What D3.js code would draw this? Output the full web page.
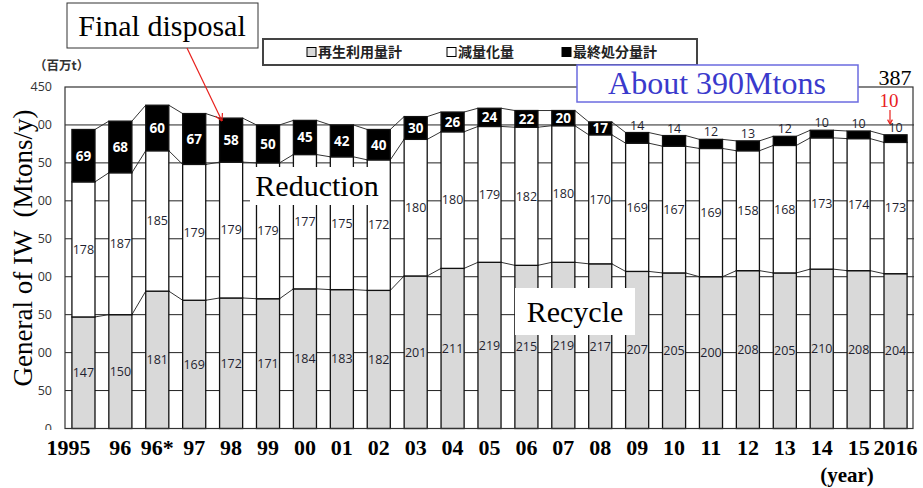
<!DOCTYPE html>
<html>
<head>
<meta charset="utf-8">
<script src="https://cdn.jsdelivr.net/npm/d3@7"></script>
<style>
  body { margin: 0; background: #fff; }
  svg { display: block; }
</style>
</head>
<body>
<svg id="chart" width="923" height="488"></svg>
<script>
// Industrial waste generated in Japan, Mtons per year, split by fate
const years = ["1995", "96", "96*", "97", "98", "99", "00", "01", "02", "03", "04", "05",
               "06", "07", "08", "09", "10", "11", "12", "13", "14", "15", "2016"];
const recycle = [147, 150, 181, 169, 172, 171, 184, 183, 182, 201, 211, 219,
                 215, 219, 217, 207, 205, 200, 208, 205, 210, 208, 204];
const reduction = [178, 187, 185, 179, 179, 179, 177, 175, 172, 180, 180, 179,
                   182, 180, 170, 169, 167, 169, 158, 168, 173, 174, 173];
const finalDisposal = [69, 68, 60, 67, 58, 50, 45, 42, 40, 30, 26, 24,
                       22, 20, 17, 14, 14, 12, 13, 12, 10, 10, 10];
const yTicks = [0, 50, 100, 150, 200, 250, 300, 350, 400, 450];
const legendLabels = ["再生利用量計", "減量化量", "最終処分量計"];
const legendFills = ["#d9d9d9", "#ffffff", "#000000"];

const svg = d3.select("#chart");
const serif = "'Liberation Serif', 'Times New Roman', serif";
const sans = "'Open Sans', 'Liberation Sans', sans-serif";
const cjk = "'Noto Sans CJK JP', 'Noto Sans CJK SC', sans-serif";

const plot = { left: 65, right: 914, top: 87, bottom: 428.5 };

const x = d3.scaleBand()
  .domain(years)
  .range([plot.left, plot.right])
  .paddingInner(0.375)
  .paddingOuter(0.1875);

const y = d3.scaleLinear()
  .domain([0, 450])
  .range([plot.bottom, plot.top]);

const bw = x.bandwidth();

// stacked rows
const rows = years.map((yr, i) => ({
  year: yr,
  recycle: recycle[i],
  reduction: reduction[i],
  finalDisposal: finalDisposal[i]
}));
const stack = d3.stack().keys(["recycle", "reduction", "finalDisposal"]);
const layers = stack(rows);
const fills = { recycle: "#d9d9d9", reduction: "#ffffff", finalDisposal: "#000000" };

// y tick labels
svg.append("g").selectAll("text")
  .data(yTicks)
  .join("text")
  .attr("x", 52)
  .attr("y", d => y(d))
  .attr("dy", "0.35em")
  .attr("text-anchor", "end")
  .attr("font-family", sans)
  .attr("font-size", 12.5)
  .attr("fill", "#333")
  .text(d => d);

// white panels behind the vertical axis title and the year labels
svg.append("rect").attr("x", 4).attr("y", 96).attr("width", 34).attr("height", 322).attr("fill", "#fff");
svg.append("rect").attr("x", 20).attr("y", 430).attr("width", 40).attr("height", 14).attr("fill", "#fff");

svg.append("text")
  .attr("transform", "translate(32,248) rotate(-90)")
  .attr("text-anchor", "middle")
  .attr("font-family", serif)
  .attr("font-size", 27)
  .attr("fill", "#000")
  .attr("xml:space", "preserve")
  .text("General of IW  (Mtons/y)");

// gridlines
svg.append("g").selectAll("line")
  .data(yTicks.filter(d => d > 0 && d < 450))
  .join("line")
  .attr("x1", plot.left).attr("x2", plot.right)
  .attr("y1", d => y(d)).attr("y2", d => y(d))
  .attr("stroke", "#222").attr("stroke-width", 1);

// series lines linking segment tops of neighbouring bars
const seriesLines = svg.append("g")
  .attr("stroke", "#333").attr("stroke-width", 1).attr("fill", "none");
layers.forEach(layer => {
  for (let i = 0; i < layer.length - 1; i++) {
    seriesLines.append("line")
      .attr("x1", x(years[i]) + bw).attr("y1", y(layer[i][1]))
      .attr("x2", x(years[i + 1])).attr("y2", y(layer[i + 1][1]));
  }
});

// bars
svg.append("g").selectAll("g")
  .data(layers)
  .join("g")
  .attr("fill", d => fills[d.key])
  .selectAll("rect")
  .data(d => d)
  .join("rect")
  .attr("x", d => x(d.data.year))
  .attr("y", d => y(d[1]))
  .attr("width", bw)
  .attr("height", d => y(d[0]) - y(d[1]))
  .attr("stroke", "#111")
  .attr("stroke-width", 1.3);

// value labels: recycle and reduction centred in their segments
["recycle", "reduction"].forEach((key, k) => {
  svg.append("g").selectAll("text")
    .data(layers[k])
    .join("text")
    .attr("x", d => x(d.data.year) + bw / 2)
    .attr("y", d => (y(d[0]) + y(d[1])) / 2)
    .attr("dy", "0.35em")
    .attr("text-anchor", "middle")
    .attr("font-family", sans)
    .attr("font-size", 12.5)
    .attr("fill", "#1f1f30")
    .text(d => d.data[key]);
});

// final disposal labels: inside the black bar when it is tall enough, above otherwise
svg.append("g").selectAll("text")
  .data(layers[2])
  .join("text")
  .attr("x", d => x(d.data.year) + bw / 2)
  .attr("y", d => d.data.finalDisposal >= 15 ? (y(d[0]) + y(d[1])) / 2 : y(d[1]) - 3)
  .attr("dy", d => d.data.finalDisposal >= 15 ? "0.36em" : "0")
  .attr("text-anchor", "middle")
  .attr("font-family", sans)
  .attr("font-size", d => d.data.finalDisposal >= 15 ? 13.5 : 12.5)
  .attr("font-weight", d => d.data.finalDisposal >= 15 ? "bold" : "normal")
  .attr("fill", d => d.data.finalDisposal >= 15 ? "#fff" : "#1f1f30")
  .text(d => d.data.finalDisposal);

// plot frame
svg.append("rect")
  .attr("x", plot.left).attr("y", plot.top)
  .attr("width", plot.right - plot.left - 1).attr("height", plot.bottom - plot.top)
  .attr("fill", "none").attr("stroke", "#333").attr("stroke-width", 1.2);

// x axis labels
svg.append("g").selectAll("text")
  .data(years)
  .join("text")
  .attr("x", (d, i) => i === 0 ? x(d) + bw / 2 + 7 : x(d) + bw / 2)
  .attr("y", 455)
  .attr("text-anchor", (d, i) => i === 0 ? "end" : "middle")
  .attr("font-family", serif)
  .attr("font-weight", "bold")
  .attr("font-size", 22)
  .attr("fill", "#000")
  .text(d => d);

svg.append("text")
  .attr("x", 847).attr("y", 482)
  .attr("text-anchor", "middle")
  .attr("font-family", serif).attr("font-weight", "bold").attr("font-size", 21)
  .text("(year)");

// unit label
svg.append("text")
  .attr("x", 34).attr("y", 70)
  .attr("font-family", cjk).attr("font-weight", "bold").attr("font-size", 12.5)
  .attr("fill", "#333")
  .text("（百万t）");

// legend
const legend = svg.append("g");
legend.append("rect")
  .attr("x", 263).attr("y", 39).attr("width", 434).attr("height", 26)
  .attr("fill", "#fff").attr("stroke", "#444").attr("stroke-width", 2);
const legendX = [307, 447, 562];
legendLabels.forEach((lab, i) => {
  legend.append("rect")
    .attr("x", legendX[i]).attr("y", 47.5).attr("width", 9).attr("height", 9)
    .attr("fill", legendFills[i]).attr("stroke", "#000").attr("stroke-width", 1);
  legend.append("text")
    .attr("x", legendX[i] + 11).attr("y", 52)
    .attr("dy", "0.36em")
    .attr("font-family", cjk).attr("font-weight", "bold").attr("font-size", 14)
    .attr("fill", "#222")
    .text(lab);
});

// "Final disposal" callout
svg.append("rect")
  .attr("x", 67).attr("y", 3).attr("width", 191).attr("height", 45)
  .attr("fill", "#fff").attr("stroke", "#333").attr("stroke-width", 1);
svg.append("text")
  .attr("x", 162).attr("y", 36)
  .attr("text-anchor", "middle")
  .attr("font-family", serif).attr("font-size", 30)
  .text("Final disposal");

const red = "#e8201c";
const arrow = (x1, y1, x2, y2, head) => {
  const a = Math.atan2(y2 - y1, x2 - x1);
  const g = svg.append("g").attr("stroke", red).attr("stroke-width", 1.2).attr("fill", "none");
  g.append("line").attr("x1", x1).attr("y1", y1).attr("x2", x2).attr("y2", y2);
  [-0.5, 0.5].forEach(s => {
    g.append("line")
      .attr("x1", x2).attr("y1", y2)
      .attr("x2", x2 - head * Math.cos(a + s)).attr("y2", y2 - head * Math.sin(a + s));
  });
};
arrow(187, 48, 222, 121, 8);

// "Reduction" and "Recycle" labels on white panels
svg.append("rect").attr("x", 250).attr("y", 167).attr("width", 134).attr("height", 38).attr("fill", "#fff");
svg.append("text")
  .attr("x", 317).attr("y", 196)
  .attr("text-anchor", "middle")
  .attr("font-family", serif).attr("font-size", 30)
  .text("Reduction");

svg.append("rect").attr("x", 515).attr("y", 288).attr("width", 120).attr("height", 47).attr("fill", "#fff");
svg.append("text")
  .attr("x", 575).attr("y", 322)
  .attr("text-anchor", "middle")
  .attr("font-family", serif).attr("font-size", 30)
  .text("Recycle");

// total callout
svg.append("rect")
  .attr("x", 577).attr("y", 65).attr("width", 281).attr("height", 37)
  .attr("fill", "#fff").attr("stroke", "#6b6be0").attr("stroke-width", 1.5);
svg.append("text")
  .attr("x", 717).attr("y", 94)
  .attr("text-anchor", "middle")
  .attr("font-family", serif).attr("font-size", 32)
  .attr("fill", "#3a3acc")
  .text("About 390Mtons");

const total2016 = recycle[22] + reduction[22] + finalDisposal[22];
svg.append("rect").attr("x", 877).attr("y", 70).attr("width", 35).attr("height", 16).attr("fill", "#fff");
svg.append("text")
  .attr("x", 895).attr("y", 85)
  .attr("text-anchor", "middle")
  .attr("font-family", serif).attr("font-size", 22)
  .text(total2016);

svg.append("text")
  .attr("x", 889).attr("y", 107)
  .attr("text-anchor", "middle")
  .attr("font-family", serif).attr("font-size", 19)
  .attr("fill", red)
  .text(finalDisposal[22]);
arrow(890, 110, 890, 124, 5);
</script>
</body>
</html>
